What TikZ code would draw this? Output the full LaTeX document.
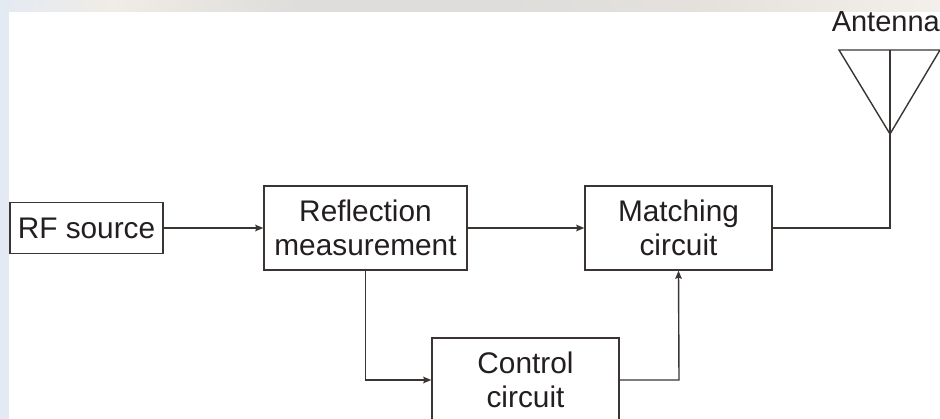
\documentclass[tikz,border=0pt]{standalone}
\usepackage{fontspec}
\setmainfont{Liberation Sans}
\usetikzlibrary{arrows.meta}
\definecolor{ink}{HTML}{231F20}
\definecolor{wire}{HTML}{3A3533}
\definecolor{edgeblue}{HTML}{E4EAF3}
\definecolor{stripA}{HTML}{F0ECE6}
\definecolor{stripB}{HTML}{DEDDDB}
\definecolor{stripC}{HTML}{E4E1DD}
\definecolor{stripD}{HTML}{F3F0EB}
\tikzset{
  blockbox/.style={draw=wire,line width=1.4pt,fill=white,inner sep=0pt,align=center,text=ink,
    font=\fontsize{29.8}{34}\selectfont,minimum height=84pt},
  wireline/.style={draw=wire,line width=1.4pt},
  flow/.style={wireline,-{Stealth[length=8pt,width=6.5pt,inset=1pt]}},
}
\begin{document}
\begin{tikzpicture}[x=1pt,y=-1pt]
\useasboundingbox (0,0) rectangle (940,419);
% photographic backdrop strips
\fill[edgeblue] (0,0) rectangle (9,419);
\shade[left color=edgeblue,right color=stripA] (0,0) rectangle (110,12);
\shade[left color=stripA,right color=stripB] (110,0) rectangle (300,12);
\shade[left color=stripB,right color=stripB] (300,0) rectangle (500,12);
\shade[left color=stripB,right color=stripC] (500,0) rectangle (690,12);
\shade[left color=stripC,right color=stripD] (690,0) rectangle (940,12);
\fill[white] (9,12) rectangle (940,419);
% blocks
\node[blockbox,minimum width=153pt,minimum height=51pt] (rf) at (86.5,228) {RF source};
\node[blockbox,minimum width=203pt] (refl) at (365.5,228) {Reflection\\measurement};
\node[blockbox,minimum width=187pt] (match) at (678.5,228) {Matching\\circuit};
\node[blockbox,minimum width=187pt] (ctrl) at (525.5,380) {Control\\circuit};
% antenna
\node[anchor=base east,inner sep=0pt,text=ink,font=\fontsize{29}{34}\selectfont] (antlabel) at (940,32) {Antenna};
\coordinate (antL) at (839,50);
\coordinate (antR) at (940,50);
\coordinate (antT) at (890,134);
\coordinate (antC) at (890,50);
\coordinate (antB) at (890,228);
\coordinate (ctrlR) at (679,380);
\coordinate (reflD) at (365.5,380);
\draw[wireline,line join=miter] (antL) -- (antR) -- (antT) -- cycle;
\draw[wireline] (antC) -- (antT);
% connectors
\draw[flow] (rf.east) -- (refl.west);
\draw[flow] (refl.east) -- (match.west);
\draw[flow] (refl.south) -- (reflD) -- (ctrl.west);
\draw[flow] (ctrl.east) -- (ctrlR) -- (match.south);
\draw[wireline] (match.east) -- (antB) -- (antT);
\end{tikzpicture}
\end{document}
